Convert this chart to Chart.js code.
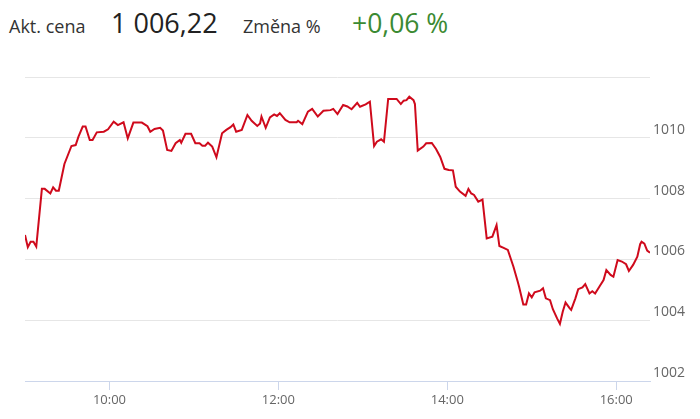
<!DOCTYPE html>
<html>
<head>
<meta charset="utf-8">
<script src="https://cdn.jsdelivr.net/npm/chart.js@4/dist/chart.umd.min.js"></script>
<style>
  html, body { margin: 0; padding: 0; background: #fff; width: 700px; height: 419px; overflow: hidden; }
  #c { position: absolute; left: 0; top: 0; }
  .hdr { position: absolute; white-space: nowrap; font-family: "Open Sans", sans-serif; line-height: normal; }
</style>
</head>
<body>
<span class="hdr" style="left:9px; top:14px; font-size:18px; color:#333;">Akt. cena</span>
<span class="hdr" style="left:111px; top:4px; font-size:27px; color:#222;">1 006,22</span>
<span class="hdr" style="left:243px; top:14px; font-size:18px; color:#333;">Změna %</span>
<span class="hdr" style="left:352px; top:5px; font-size:26.5px; color:#3b8a32;">+0,06 %</span>
<canvas id="c" width="700" height="419"></canvas>
<script>
const times = [
  "9:00","9:02","9:04","9:06","9:08","9:12","9:14","9:18","9:20","9:22",
  "9:24","9:28","9:33","9:36","9:38","9:41","9:43","9:46","9:48","9:51",
  "9:56","9:59","10:03","10:06","10:10","10:13","10:17","10:23","10:27","10:29",
  "10:32","10:36","10:38","10:41","10:44","10:47","10:50","10:51","10:54","10:58",
  "11:01","11:04","11:06","11:08","11:10","11:13","11:16","11:20","11:23","11:26",
  "11:28","11:30","11:34","11:38","11:41","11:45","11:47","11:48","11:51","11:54",
  "11:57","11:59","12:01","12:05","12:08","12:13","12:14","12:17","12:21","12:24",
  "12:28","12:32","12:37","12:39","12:42","12:46","12:49","12:52","12:56","12:58",
  "13:02","13:05","13:08","13:10","13:13","13:15","13:18","13:24","13:27","13:29",
  "13:31","13:33","13:36","13:37","13:39","13:43","13:45","13:49","13:52","13:55",
  "13:58","14:01","14:04","14:06","14:09","14:13","14:15","14:17","14:19","14:22",
  "14:25","14:28","14:32","14:35","14:37","14:40","14:43","14:47","14:50","14:51",
  "14:54","14:56","14:58","15:00","15:02","15:06","15:08","15:10","15:13","15:15",
  "15:18","15:20","15:22","15:24","15:27","15:28","15:31","15:33","15:36","15:38",
  "15:41","15:43","15:45","15:48","15:51","15:53","15:56","15:58","16:01","16:04",
  "16:07","16:09","16:12","16:15","16:17","16:18","16:20","16:22","16:24"
];
const prices = [
  1006.80,1006.40,1006.58,1006.58,1006.42,1008.32,1008.32,1008.17,1008.37,1008.26,
  1008.26,1009.14,1009.73,1009.76,1010.04,1010.37,1010.37,1009.93,1009.93,1010.18,
  1010.20,1010.28,1010.53,1010.42,1010.51,1009.98,1010.50,1010.50,1010.38,1010.20,
  1010.29,1010.33,1010.24,1009.60,1009.57,1009.82,1009.93,1009.84,1010.13,1010.13,
  1009.82,1009.82,1009.74,1009.74,1009.84,1009.71,1009.36,1010.15,1010.26,1010.35,
  1010.44,1010.20,1010.26,1010.75,1010.56,1010.39,1010.47,1010.70,1010.33,1010.67,
  1010.77,1010.72,1010.81,1010.59,1010.51,1010.51,1010.56,1010.45,1010.86,1010.95,
  1010.70,1010.89,1010.91,1010.95,1010.78,1011.08,1011.03,1010.94,1011.15,1011.02,
  1011.10,1011.19,1009.73,1009.87,1009.95,1009.87,1011.28,1011.28,1011.11,1011.22,
  1011.24,1011.35,1011.24,1011.11,1009.58,1009.71,1009.82,1009.83,1009.63,1009.37,
  1008.98,1008.94,1008.93,1008.39,1008.23,1008.09,1008.32,1008.17,1008.12,1007.90,
  1007.97,1006.69,1006.75,1007.13,1006.44,1006.38,1006.31,1005.76,1005.27,1005.10,
  1004.52,1004.52,1004.88,1004.75,1004.92,1004.97,1005.05,1004.72,1004.66,1004.36,
  1004.06,1003.88,1004.28,1004.58,1004.39,1004.34,1004.72,1005.02,1005.08,1005.19,
  1004.88,1004.95,1004.88,1005.10,1005.32,1005.65,1005.49,1005.43,1005.98,1005.93,
  1005.84,1005.62,1005.82,1006.09,1006.50,1006.58,1006.52,1006.29,1006.22
];
const xTickLabels = ["10:00","12:00","14:00","16:00"];
const yTickValues = [1002,1004,1006,1008,1010,1012];
const xStart = "9:00";
const xEnd = "16:24";

const toMin = s => { const p = s.split(":").map(Number); return p[0]*60 + p[1]; };
const fmt = v => { const h = Math.floor(v/60), m = Math.round(v - h*60); return h + ":" + String(m).padStart(2,"0"); };

new Chart(document.getElementById("c"), {
  type: "line",
  data: {
    datasets: [{
      data: times.map((t,i) => ({ x: toMin(t), y: prices[i] })),
      borderColor: "#cf0a1c",
      borderWidth: 2,
      pointRadius: 0,
      tension: 0,
      fill: false
    }]
  },
  options: {
    responsive: false,
    animation: false,
    events: [],
    layout: { padding: { left: 25, top: 77, right: 0, bottom: 0 } },
    plugins: { legend: { display: false }, tooltip: { enabled: false } },
    scales: {
      x: {
        type: "linear",
        min: toMin(xStart),
        max: toMin(xEnd),
        afterBuildTicks: s => { s.ticks = xTickLabels.map(t => ({ value: toMin(t) })); },
        afterFit: s => { s.height = 38; },
        grid: { drawOnChartArea: false, drawTicks: true, tickLength: 9, color: "#ccd6eb" },
        border: { color: "#ccd6eb", width: 1 },
        ticks: {
          padding: 2, maxRotation: 0, autoSkip: false,
          color: "#666", font: { family: "Open Sans", size: 13 },
          callback: v => fmt(v)
        }
      },
      y: {
        position: "right",
        min: yTickValues[0],
        max: yTickValues[yTickValues.length-1],
        afterBuildTicks: s => { s.ticks = yTickValues.map(v => ({ value: v })); },
        afterFit: s => { s.width = 50; },
        grid: {
          drawTicks: false,
          color: ctx => (ctx.tick && ctx.tick.value === yTickValues[0]) ? "rgba(0,0,0,0)" : "#e6e6e6"
        },
        border: { display: false },
        ticks: {
          padding: 3, crossAlign: "near", labelOffset: -8, autoSkip: false,
          color: "#666", font: { family: "Open Sans", size: 14 },
          callback: v => v === yTickValues[yTickValues.length-1] ? "" : String(v)
        }
      }
    }
  }
});
</script>
</body>
</html>
